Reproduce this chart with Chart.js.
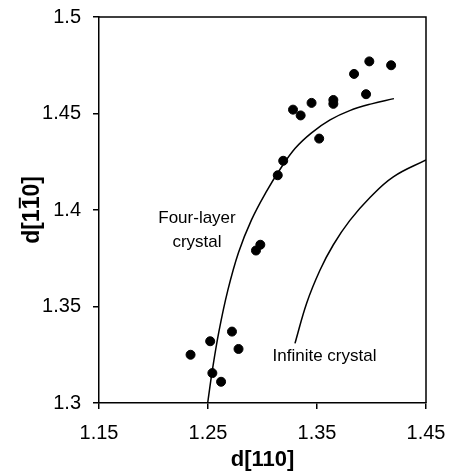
<!DOCTYPE html>
<html>
<head>
<meta charset="utf-8">
<script src="https://cdn.jsdelivr.net/npm/chart.js@4.4.1/dist/chart.umd.min.js"></script>
<style>
  html, body { margin: 0; padding: 0; background: #fff; }
  #wrap { width: 458px; height: 473px; position: relative; }
</style>
</head>
<body>
<div id="wrap"><canvas id="c" width="458" height="473"></canvas></div>
<script>
// ---- data ----
const pointX = [1.234, 1.252, 1.254, 1.262, 1.272, 1.278, 1.294, 1.298, 1.314, 1.319,
                1.328, 1.335, 1.345, 1.352, 1.365, 1.365, 1.384, 1.395, 1.398, 1.418];
const pointY = [1.325, 1.332, 1.3155, 1.311, 1.337, 1.328, 1.379, 1.382, 1.418, 1.4255,
                1.452, 1.449, 1.4555, 1.437, 1.455, 1.457, 1.4705, 1.460, 1.477, 1.475];

const fourLayerX = [1.2497, 1.2540, 1.2600, 1.2680, 1.2780, 1.2900, 1.3030, 1.3160,
                    1.3300, 1.3450, 1.3620, 1.3800, 1.4000, 1.4206];
const fourLayerY = [1.3000, 1.3170, 1.3370, 1.3580, 1.3780, 1.3950, 1.4090, 1.4210,
                    1.4320, 1.4400, 1.4467, 1.4515, 1.4550, 1.4577];

const infiniteX = [1.3298, 1.3405, 1.3528, 1.3650, 1.3800, 1.3986, 1.4200, 1.4500];
const infiniteY = [1.3309, 1.3517, 1.3689, 1.3820, 1.3945, 1.4065, 1.4172, 1.4260];

const xTicks = [1.15, 1.25, 1.35, 1.45];
const xTickLabels = ['1.15', '1.25', '1.35', '1.45'];
const yTicks = [1.3, 1.35, 1.4, 1.45, 1.5];
const yTickLabels = ['1.3', '1.35', '1.4', '1.45', '1.5'];

const xTitle = 'd[110]';
// y title d[1 1-bar 0]: pieces, the middle one carries an overline
const yTitleParts = [
  { text: 'd[1', bar: false },
  { text: '1', bar: true },
  { text: '0]', bar: false }
];
const curveLabels = [
  { lines: ['Four-layer', 'crystal'], x: 1.2399, y: 1.3959 },
  { lines: ['Infinite crystal'], x: 1.3569, y: 1.3240 }
];

// ---- build ----
const toXY = (xs, ys) => xs.map((x, i) => ({ x: x, y: ys[i] }));

const FONT = '"Liberation Sans", Arial, Helvetica, sans-serif';

const frameAndLabels = {
  id: 'frameAndLabels',
  afterDatasetsDraw(chart) {
    const { ctx, chartArea: a, scales } = chart;
    ctx.save();
    ctx.strokeStyle = '#000';
    ctx.lineWidth = 1.5;
    ctx.beginPath();
    ctx.moveTo(a.left, a.top);
    ctx.lineTo(a.right, a.top);
    ctx.lineTo(a.right, a.bottom);
    ctx.stroke();
    ctx.fillStyle = '#000';
    ctx.font = '17px ' + FONT;
    ctx.textAlign = 'center';
    ctx.textBaseline = 'middle';
    curveLabels.forEach(l => {
      const px = scales.x.getPixelForValue(l.x);
      const py = scales.y.getPixelForValue(l.y);
      l.lines.forEach((t, i) => ctx.fillText(t, px, py + i * 24));
    });
    ctx.restore();
  },
  afterDraw(chart) {
    // rotated y-axis title with overline on the second "1"
    const { ctx, chartArea: a } = chart;
    const size = 23;
    ctx.save();
    ctx.fillStyle = '#000';
    ctx.strokeStyle = '#000';
    ctx.font = 'bold ' + size + 'px ' + FONT;
    ctx.textAlign = 'left';
    ctx.textBaseline = 'alphabetic';
    const total = yTitleParts.reduce((s, p) => s + ctx.measureText(p.text).width, 0);
    ctx.translate(31, (a.top + a.bottom) / 2);
    ctx.rotate(-Math.PI / 2);
    let cx = -total / 2;
    const base = size * 0.36;
    yTitleParts.forEach(p => {
      const w = ctx.measureText(p.text).width;
      ctx.fillText(p.text, cx, base);
      if (p.bar) {
        ctx.lineWidth = 2;
        ctx.beginPath();
        const by = base - size * 0.716 - 3;
        ctx.moveTo(cx + 1, by);
        ctx.lineTo(cx + w - 1, by);
        ctx.stroke();
      }
      cx += w;
    });
    ctx.restore();
  }
};

new Chart(document.getElementById('c'), {
  type: 'scatter',
  data: {
    datasets: [
      {
        data: toXY(pointX, pointY),
        backgroundColor: '#000',
        borderColor: '#000',
        pointRadius: 4.5,
        pointHoverRadius: 4.5,
        showLine: false
      },
      {
        data: toXY(fourLayerX, fourLayerY),
        showLine: true,
        borderColor: '#000',
        borderWidth: 1.5,
        pointRadius: 0,
        tension: 0.4,
        fill: false
      },
      {
        data: toXY(infiniteX, infiniteY),
        showLine: true,
        borderColor: '#000',
        borderWidth: 1.5,
        pointRadius: 0,
        tension: 0.4,
        fill: false
      }
    ]
  },
  options: {
    responsive: false,
    animation: false,
    events: [],
    layout: { padding: { top: 17, right: 32, left: 0, bottom: 0 } },
    plugins: { legend: { display: false }, tooltip: { enabled: false } },
    scales: {
      x: {
        type: 'linear',
        min: 1.15, max: 1.45,
        afterBuildTicks: s => { s.ticks = xTicks.map(v => ({ value: v })); },
        afterFit: s => { s.height = 70; s.paddingLeft = 0; s.paddingRight = 0; },
        grid: { display: true, drawOnChartArea: false, drawTicks: true, tickLength: 6, color: '#000', lineWidth: 1.5 },
        border: { display: true, color: '#000', width: 1.5 },
        ticks: {
          color: '#000',
          font: { family: FONT, size: 20 },
          padding: 12,
          maxRotation: 0,
          callback: (v, i) => xTickLabels[i]
        },
        title: {
          display: true, text: xTitle, color: '#000',
          font: { family: FONT, size: 22, weight: 'bold' },
          padding: { top: 0, bottom: 0 }
        }
      },
      y: {
        type: 'linear',
        min: 1.3, max: 1.5,
        afterBuildTicks: s => { s.ticks = yTicks.map(v => ({ value: v })); },
        afterFit: s => { s.width = 99; s.paddingTop = 0; s.paddingBottom = 0; },
        grid: { display: true, drawOnChartArea: false, drawTicks: true, tickLength: 6, color: '#000', lineWidth: 1.5 },
        border: { display: true, color: '#000', width: 1.5 },
        ticks: {
          color: '#000',
          font: { family: FONT, size: 20 },
          padding: 12,
          callback: (v, i) => yTickLabels[i]
        },
        title: { display: false }
      }
    }
  },
  plugins: [frameAndLabels]
});
</script>
</body>
</html>
